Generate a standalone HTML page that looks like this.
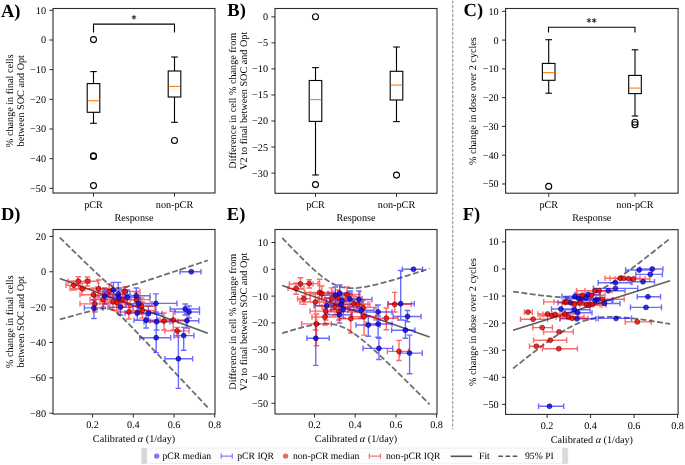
<!DOCTYPE html><html><head><meta charset="utf-8"><style>html,body{margin:0;padding:0;background:#fff;}svg{display:block;will-change:transform;text-rendering:geometricPrecision;}</style></head><body><svg width="685" height="465" viewBox="0 0 685 465" font-family='"Liberation Serif", serif'>
<rect width="685" height="465" fill="#fff"/>
<line x1="452.7" y1="0.5" x2="452.7" y2="429" stroke="#a0a0a0" stroke-width="1.3" stroke-dasharray="3 1.5"/>
<text x="1.00" y="16.80" font-size="18.5" text-anchor="start" font-weight="bold">A)</text>
<text x="227.30" y="16.20" font-size="18.5" text-anchor="start" font-weight="bold">B)</text>
<text x="463.60" y="16.30" font-size="18.5" text-anchor="start" font-weight="bold">C)</text>
<text x="1.00" y="219.70" font-size="18.5" text-anchor="start" font-weight="bold">D)</text>
<text x="226.80" y="220.00" font-size="18.5" text-anchor="start" font-weight="bold">E)</text>
<text x="462.80" y="220.30" font-size="18.5" text-anchor="start" font-weight="bold">F)</text>
<line x1="49.40" y1="10.33" x2="53.00" y2="10.33" stroke="#2b2b2b" stroke-width="1.0" />
<text x="46.00" y="13.78" font-size="10.2" text-anchor="end" >10</text>
<line x1="49.40" y1="40.00" x2="53.00" y2="40.00" stroke="#2b2b2b" stroke-width="1.0" />
<text x="46.00" y="43.45" font-size="10.2" text-anchor="end" >0</text>
<line x1="49.40" y1="69.67" x2="53.00" y2="69.67" stroke="#2b2b2b" stroke-width="1.0" />
<text x="46.00" y="73.12" font-size="10.2" text-anchor="end" >−10</text>
<line x1="49.40" y1="99.34" x2="53.00" y2="99.34" stroke="#2b2b2b" stroke-width="1.0" />
<text x="46.00" y="102.79" font-size="10.2" text-anchor="end" >−20</text>
<line x1="49.40" y1="129.01" x2="53.00" y2="129.01" stroke="#2b2b2b" stroke-width="1.0" />
<text x="46.00" y="132.46" font-size="10.2" text-anchor="end" >−30</text>
<line x1="49.40" y1="158.68" x2="53.00" y2="158.68" stroke="#2b2b2b" stroke-width="1.0" />
<text x="46.00" y="162.13" font-size="10.2" text-anchor="end" >−40</text>
<line x1="49.40" y1="188.35" x2="53.00" y2="188.35" stroke="#2b2b2b" stroke-width="1.0" />
<text x="46.00" y="191.80" font-size="10.2" text-anchor="end" >−50</text>
<line x1="93.50" y1="193.00" x2="93.50" y2="196.60" stroke="#2b2b2b" stroke-width="1.0" />
<text x="93.50" y="208.10" font-size="10.2" text-anchor="middle" >pCR</text>
<line x1="174.50" y1="193.00" x2="174.50" y2="196.60" stroke="#2b2b2b" stroke-width="1.0" />
<text x="174.50" y="208.10" font-size="10.2" text-anchor="middle" >non-pCR</text>
<text x="134.00" y="221.10" font-size="10.2" text-anchor="middle" >Response</text>
<text x="12.90" y="100.75" font-size="10.2" text-anchor="middle" transform="rotate(-90 12.90 100.75)">% change in final cells</text>
<text x="24.00" y="100.75" font-size="10.2" text-anchor="middle" transform="rotate(-90 24.00 100.75)">between SOC and Opt</text>
<rect x="87.20" y="83.60" width="12.60" height="28.70" fill="none" stroke="#000" stroke-width="1.1"/>
<line x1="93.50" y1="83.60" x2="93.50" y2="71.60" stroke="#000" stroke-width="1.1" />
<line x1="93.50" y1="112.30" x2="93.50" y2="123.30" stroke="#000" stroke-width="1.1" />
<line x1="90.20" y1="71.60" x2="96.80" y2="71.60" stroke="#000" stroke-width="1.1" />
<line x1="90.20" y1="123.30" x2="96.80" y2="123.30" stroke="#000" stroke-width="1.1" />
<line x1="87.70" y1="100.70" x2="99.30" y2="100.70" stroke="#ff7f0e" stroke-width="1.1" />
<circle cx="93.50" cy="39.60" r="3.0" fill="none" stroke="#000" stroke-width="1.1"/>
<circle cx="93.50" cy="155.70" r="3.0" fill="none" stroke="#000" stroke-width="1.1"/>
<circle cx="93.50" cy="156.50" r="3.0" fill="none" stroke="#000" stroke-width="1.1"/>
<circle cx="93.50" cy="185.60" r="3.0" fill="none" stroke="#000" stroke-width="1.1"/>
<rect x="168.20" y="71.00" width="12.60" height="26.00" fill="none" stroke="#000" stroke-width="1.1"/>
<line x1="174.50" y1="71.00" x2="174.50" y2="57.00" stroke="#000" stroke-width="1.1" />
<line x1="174.50" y1="97.00" x2="174.50" y2="122.30" stroke="#000" stroke-width="1.1" />
<line x1="171.20" y1="57.00" x2="177.80" y2="57.00" stroke="#000" stroke-width="1.1" />
<line x1="171.20" y1="122.30" x2="177.80" y2="122.30" stroke="#000" stroke-width="1.1" />
<line x1="168.70" y1="86.40" x2="180.30" y2="86.40" stroke="#ff7f0e" stroke-width="1.1" />
<circle cx="174.50" cy="140.50" r="3.0" fill="none" stroke="#000" stroke-width="1.1"/>
<polyline points="93.50,32.40 93.50,24.10 174.50,24.10 174.50,32.40" fill="none" stroke="#000" stroke-width="1.1"/>
<path d="M134.00 15.30L134.00 19.30M132.27 16.30L135.73 18.30M132.27 18.30L135.73 16.30" stroke="#5a5a5a" stroke-width="1.1" stroke-linecap="round" fill="none"/>
<circle cx="134.00" cy="17.30" r="1.0" fill="#333"/>
<rect x="53" y="8.5" width="162" height="184.5" fill="none" stroke="#2b2b2b" stroke-width="1.1"/>
<line x1="271.40" y1="16.80" x2="275.00" y2="16.80" stroke="#2b2b2b" stroke-width="1.0" />
<text x="268.00" y="20.25" font-size="10.2" text-anchor="end" >0</text>
<line x1="271.40" y1="42.85" x2="275.00" y2="42.85" stroke="#2b2b2b" stroke-width="1.0" />
<text x="268.00" y="46.30" font-size="10.2" text-anchor="end" >−5</text>
<line x1="271.40" y1="68.90" x2="275.00" y2="68.90" stroke="#2b2b2b" stroke-width="1.0" />
<text x="268.00" y="72.35" font-size="10.2" text-anchor="end" >−10</text>
<line x1="271.40" y1="94.95" x2="275.00" y2="94.95" stroke="#2b2b2b" stroke-width="1.0" />
<text x="268.00" y="98.40" font-size="10.2" text-anchor="end" >−15</text>
<line x1="271.40" y1="121.00" x2="275.00" y2="121.00" stroke="#2b2b2b" stroke-width="1.0" />
<text x="268.00" y="124.45" font-size="10.2" text-anchor="end" >−20</text>
<line x1="271.40" y1="147.05" x2="275.00" y2="147.05" stroke="#2b2b2b" stroke-width="1.0" />
<text x="268.00" y="150.50" font-size="10.2" text-anchor="end" >−25</text>
<line x1="271.40" y1="173.10" x2="275.00" y2="173.10" stroke="#2b2b2b" stroke-width="1.0" />
<text x="268.00" y="176.55" font-size="10.2" text-anchor="end" >−30</text>
<line x1="315.50" y1="193.30" x2="315.50" y2="196.90" stroke="#2b2b2b" stroke-width="1.0" />
<text x="315.50" y="208.10" font-size="10.2" text-anchor="middle" >pCR</text>
<line x1="396.50" y1="193.30" x2="396.50" y2="196.90" stroke="#2b2b2b" stroke-width="1.0" />
<text x="396.50" y="208.10" font-size="10.2" text-anchor="middle" >non-pCR</text>
<text x="356.00" y="221.10" font-size="10.2" text-anchor="middle" >Response</text>
<text x="236.00" y="100.75" font-size="10.2" text-anchor="middle" transform="rotate(-90 236.00 100.75)">Difference in cell % change from</text>
<text x="247.20" y="100.75" font-size="10.2" text-anchor="middle" transform="rotate(-90 247.20 100.75)">V2 to final between SOC and Opt</text>
<rect x="309.20" y="80.50" width="12.60" height="40.90" fill="none" stroke="#000" stroke-width="1.1"/>
<line x1="315.50" y1="80.50" x2="315.50" y2="67.60" stroke="#000" stroke-width="1.1" />
<line x1="315.50" y1="121.40" x2="315.50" y2="175.00" stroke="#000" stroke-width="1.1" />
<line x1="312.20" y1="67.60" x2="318.80" y2="67.60" stroke="#000" stroke-width="1.1" />
<line x1="312.20" y1="175.00" x2="318.80" y2="175.00" stroke="#000" stroke-width="1.1" />
<line x1="309.70" y1="99.60" x2="321.30" y2="99.60" stroke="#ff7f0e" stroke-width="1.1" />
<circle cx="315.50" cy="16.80" r="3.0" fill="none" stroke="#000" stroke-width="1.1"/>
<circle cx="315.50" cy="184.60" r="3.0" fill="none" stroke="#000" stroke-width="1.1"/>
<rect x="390.20" y="71.30" width="12.60" height="28.70" fill="none" stroke="#000" stroke-width="1.1"/>
<line x1="396.50" y1="71.30" x2="396.50" y2="47.00" stroke="#000" stroke-width="1.1" />
<line x1="396.50" y1="100.00" x2="396.50" y2="121.60" stroke="#000" stroke-width="1.1" />
<line x1="393.20" y1="47.00" x2="399.80" y2="47.00" stroke="#000" stroke-width="1.1" />
<line x1="393.20" y1="121.60" x2="399.80" y2="121.60" stroke="#000" stroke-width="1.1" />
<line x1="390.70" y1="85.10" x2="402.30" y2="85.10" stroke="#ff7f0e" stroke-width="1.1" />
<circle cx="396.50" cy="175.10" r="3.0" fill="none" stroke="#000" stroke-width="1.1"/>
<rect x="275" y="8.5" width="162" height="184.8" fill="none" stroke="#2b2b2b" stroke-width="1.1"/>
<line x1="502.00" y1="11.30" x2="505.60" y2="11.30" stroke="#2b2b2b" stroke-width="1.0" />
<text x="498.60" y="14.75" font-size="10.2" text-anchor="end" >10</text>
<line x1="502.00" y1="40.08" x2="505.60" y2="40.08" stroke="#2b2b2b" stroke-width="1.0" />
<text x="498.60" y="43.53" font-size="10.2" text-anchor="end" >0</text>
<line x1="502.00" y1="68.86" x2="505.60" y2="68.86" stroke="#2b2b2b" stroke-width="1.0" />
<text x="498.60" y="72.31" font-size="10.2" text-anchor="end" >−10</text>
<line x1="502.00" y1="97.64" x2="505.60" y2="97.64" stroke="#2b2b2b" stroke-width="1.0" />
<text x="498.60" y="101.09" font-size="10.2" text-anchor="end" >−20</text>
<line x1="502.00" y1="126.42" x2="505.60" y2="126.42" stroke="#2b2b2b" stroke-width="1.0" />
<text x="498.60" y="129.87" font-size="10.2" text-anchor="end" >−30</text>
<line x1="502.00" y1="155.20" x2="505.60" y2="155.20" stroke="#2b2b2b" stroke-width="1.0" />
<text x="498.60" y="158.65" font-size="10.2" text-anchor="end" >−40</text>
<line x1="502.00" y1="183.98" x2="505.60" y2="183.98" stroke="#2b2b2b" stroke-width="1.0" />
<text x="498.60" y="187.43" font-size="10.2" text-anchor="end" >−50</text>
<line x1="548.73" y1="193.20" x2="548.73" y2="196.80" stroke="#2b2b2b" stroke-width="1.0" />
<text x="548.73" y="208.10" font-size="10.2" text-anchor="middle" >pCR</text>
<line x1="634.98" y1="193.20" x2="634.98" y2="196.80" stroke="#2b2b2b" stroke-width="1.0" />
<text x="634.98" y="208.10" font-size="10.2" text-anchor="middle" >non-pCR</text>
<text x="591.85" y="221.10" font-size="10.2" text-anchor="middle" >Response</text>
<text x="476.00" y="101.10" font-size="10.2" text-anchor="middle" transform="rotate(-90 476.00 101.10)">% change in dose over 2 cycles</text>
<rect x="542.40" y="63.40" width="12.60" height="16.90" fill="none" stroke="#000" stroke-width="1.1"/>
<line x1="548.70" y1="63.40" x2="548.70" y2="39.70" stroke="#000" stroke-width="1.1" />
<line x1="548.70" y1="80.30" x2="548.70" y2="93.20" stroke="#000" stroke-width="1.1" />
<line x1="545.40" y1="39.70" x2="552.00" y2="39.70" stroke="#000" stroke-width="1.1" />
<line x1="545.40" y1="93.20" x2="552.00" y2="93.20" stroke="#000" stroke-width="1.1" />
<line x1="542.90" y1="72.60" x2="554.50" y2="72.60" stroke="#ff7f0e" stroke-width="1.1" />
<circle cx="548.70" cy="186.40" r="3.0" fill="none" stroke="#000" stroke-width="1.1"/>
<rect x="628.70" y="75.40" width="12.60" height="18.20" fill="none" stroke="#000" stroke-width="1.1"/>
<line x1="635.00" y1="75.40" x2="635.00" y2="49.80" stroke="#000" stroke-width="1.1" />
<line x1="635.00" y1="93.60" x2="635.00" y2="116.00" stroke="#000" stroke-width="1.1" />
<line x1="631.70" y1="49.80" x2="638.30" y2="49.80" stroke="#000" stroke-width="1.1" />
<line x1="631.70" y1="116.00" x2="638.30" y2="116.00" stroke="#000" stroke-width="1.1" />
<line x1="629.20" y1="88.10" x2="640.80" y2="88.10" stroke="#ff7f0e" stroke-width="1.1" />
<circle cx="635.00" cy="122.20" r="3.0" fill="none" stroke="#000" stroke-width="1.1"/>
<circle cx="635.00" cy="124.70" r="3.0" fill="none" stroke="#000" stroke-width="1.1"/>
<polyline points="548.50,32.60 548.50,27.30 635.00,27.30 635.00,32.60" fill="none" stroke="#000" stroke-width="1.1"/>
<path d="M588.93 18.40L588.93 22.40M587.19 19.40L590.66 21.40M587.19 21.40L590.66 19.40" stroke="#5a5a5a" stroke-width="1.1" stroke-linecap="round" fill="none"/>
<circle cx="588.93" cy="20.40" r="1.0" fill="#333"/>
<path d="M594.27 18.40L594.27 22.40M592.54 19.40L596.01 21.40M592.54 21.40L596.01 19.40" stroke="#5a5a5a" stroke-width="1.1" stroke-linecap="round" fill="none"/>
<circle cx="594.27" cy="20.40" r="1.0" fill="#333"/>
<rect x="505.6" y="8.5" width="172.5" height="184.7" fill="none" stroke="#2b2b2b" stroke-width="1.1"/>
<polyline points="59.80,237.61 61.65,239.42 63.50,241.22 65.35,243.03 67.20,244.84 69.05,246.65 70.90,248.45 72.75,250.26 74.60,252.06 76.45,253.86 78.30,255.66 80.15,257.46 82.00,259.26 83.85,261.05 85.70,262.84 87.55,264.63 89.40,266.41 91.25,268.19 93.10,269.96 94.95,271.72 96.80,273.47 98.65,275.21 100.50,276.93 102.35,278.62 104.20,280.28 106.05,281.89 107.90,283.42 109.75,284.83 111.60,286.07 113.45,287.05 115.30,287.70 117.15,288.03 119.00,288.07 120.85,287.91 122.70,287.61 124.55,287.22 126.40,286.78 128.25,286.29 130.10,285.78 131.95,285.24 133.80,284.69 135.65,284.13 137.50,283.56 139.35,282.98 141.20,282.40 143.05,281.81 144.90,281.22 146.75,280.62 148.60,280.02 150.45,279.42 152.30,278.82 154.15,278.22 156.00,277.61 157.85,277.00 159.70,276.39 161.55,275.78 163.40,275.17 165.25,274.56 167.10,273.95 168.95,273.34 170.80,272.73 172.65,272.11 174.50,271.50 176.35,270.88 178.20,270.27 180.05,269.65 181.90,269.04 183.75,268.42 185.60,267.80 187.45,267.19 189.30,266.57 191.15,265.95 193.00,265.34 194.85,264.72 196.70,264.10 198.55,263.48 200.40,262.86 202.25,262.25 204.10,261.63 205.95,261.01 207.80,260.39" fill="none" stroke="#6e6e6e" stroke-width="1.8" stroke-dasharray="5.9 2.5"/>
<polyline points="59.80,319.34 61.65,318.82 63.50,318.31 65.35,317.80 67.20,317.28 69.05,316.77 70.90,316.26 72.75,315.76 74.60,315.25 76.45,314.75 78.30,314.25 80.15,313.75 82.00,313.26 83.85,312.77 85.70,312.29 87.55,311.81 89.40,311.34 91.25,310.88 93.10,310.44 94.95,310.01 96.80,309.60 98.65,309.22 100.50,308.89 102.35,308.61 104.20,308.41 106.05,308.33 107.90,308.42 109.75,308.75 111.60,309.37 113.45,310.30 115.30,311.52 117.15,312.94 119.00,314.51 120.85,316.19 122.70,317.94 124.55,319.74 126.40,321.58 128.25,323.44 130.10,325.32 131.95,327.22 133.80,329.13 135.65,331.04 137.50,332.97 139.35,334.90 141.20,336.84 143.05,338.78 144.90,340.72 146.75,342.67 148.60,344.62 150.45,346.57 152.30,348.53 154.15,350.48 156.00,352.44 157.85,354.40 159.70,356.36 161.55,358.32 163.40,360.28 165.25,362.24 167.10,364.21 168.95,366.17 170.80,368.14 172.65,370.10 174.50,372.07 176.35,374.04 178.20,376.00 180.05,377.97 181.90,379.94 183.75,381.91 185.60,383.87 187.45,385.84 189.30,387.81 191.15,389.78 193.00,391.75 194.85,393.72 196.70,395.69 198.55,397.66 200.40,399.63 202.25,401.60 204.10,403.57 205.95,405.54 207.80,407.51" fill="none" stroke="#6e6e6e" stroke-width="1.8" stroke-dasharray="5.9 2.5"/>
<line x1="59.80" y1="278.40" x2="207.80" y2="333.20" stroke="#5e5e5e" stroke-width="1.6" />
<path d="M180.0 271.8H201.0M180.0 269.0V274.6M201.0 269.0V274.6M84.4 307.9H103.0M84.4 305.1V310.7M103.0 305.1V310.7M93.9 300.0V318.5M91.1 300.0H96.7M91.1 318.5H96.7M95.0 295.9H115.0M95.0 293.1V298.7M115.0 293.1V298.7M104.7 288.0V304.0M101.9 288.0H107.5M101.9 304.0H107.5M106.0 294.4H130.0M106.0 291.6V297.2M130.0 291.6V297.2M118.3 282.4V302.0M115.5 282.4H121.1M115.5 302.0H121.1M107.0 297.4H131.0M107.0 294.6V300.2M131.0 294.6V300.2M119.0 290.0V305.0M116.2 290.0H121.8M116.2 305.0H121.8M103.0 290.0H124.0M103.0 287.2V292.8M124.0 287.2V292.8M113.4 282.4V298.0M110.6 282.4H116.2M110.6 298.0H116.2M115.0 297.4H140.0M115.0 294.6V300.2M140.0 294.6V300.2M127.3 290.0V305.0M124.5 290.0H130.1M124.5 305.0H130.1M124.0 295.8H150.0M124.0 293.0V298.6M150.0 293.0V298.6M136.3 288.0V303.0M133.5 288.0H139.1M133.5 303.0H139.1M126.0 303.7H152.0M126.0 300.9V306.5M152.0 300.9V306.5M138.6 296.0V311.0M135.8 296.0H141.4M135.8 311.0H141.4M108.0 307.2H133.0M108.0 304.4V310.0M133.0 304.4V310.0M120.5 300.0V315.0M117.7 300.0H123.3M117.7 315.0H123.3M125.0 313.0H150.0M125.0 310.2V315.8M150.0 310.2V315.8M137.3 306.0V320.0M134.5 306.0H140.1M134.5 320.0H140.1M136.0 313.5H162.0M136.0 310.7V316.3M162.0 310.7V316.3M148.3 306.0V321.0M145.5 306.0H151.1M145.5 321.0H151.1M140.0 303.4H177.0M140.0 300.6V306.2M177.0 300.6V306.2M155.9 293.9V312.0M153.1 293.9H158.7M153.1 312.0H158.7M134.0 320.2H158.0M134.0 317.4V323.0M158.0 317.4V323.0M146.1 313.0V328.0M143.3 313.0H148.9M143.3 328.0H148.9M144.0 321.7H170.0M144.0 318.9V324.5M170.0 318.9V324.5M156.6 314.0V330.0M153.8 314.0H159.4M153.8 330.0H159.4M170.2 309.0H199.5M170.2 306.2V311.8M199.5 306.2V311.8M185.2 304.0V315.0M182.4 304.0H188.0M182.4 315.0H188.0M175.0 312.0H199.5M175.0 309.2V314.8M199.5 309.2V314.8M189.0 306.0V318.0M186.2 306.0H191.8M186.2 318.0H191.8M172.0 320.8H198.8M172.0 318.0V323.6M198.8 318.0V323.6M186.9 314.0V328.0M184.1 314.0H189.7M184.1 328.0H189.7M139.7 337.7H170.7M139.7 334.9V340.5M170.7 334.9V340.5M156.2 321.6V352.6M153.4 321.6H159.0M153.4 352.6H159.0M164.9 358.8H192.6M164.9 356.0V361.6M192.6 356.0V361.6M178.4 331.3V388.4M175.6 331.3H181.2M175.6 388.4H181.2M174.0 335.6H194.0M174.0 332.8V338.4M194.0 332.8V338.4M183.7 327.4V350.3M180.9 327.4H186.5M180.9 350.3H186.5" fill="none" stroke="rgba(0,0,255,0.58)" stroke-width="1.4"/>
<path d="M66.0 285.3H80.0M66.0 282.5V288.1M80.0 282.5V288.1M73.8 281.0V290.0M71.0 281.0H76.6M71.0 290.0H76.6M68.0 281.3H90.0M68.0 278.5V284.1M90.0 278.5V284.1M78.3 276.8V289.0M75.5 276.8H81.1M75.5 289.0H81.1M78.0 281.3H98.0M78.0 278.5V284.1M98.0 278.5V284.1M87.4 277.0V286.0M84.6 277.0H90.2M84.6 286.0H90.2M70.0 288.8H96.0M70.0 286.0V291.6M96.0 286.0V291.6M82.1 283.0V295.0M79.3 283.0H84.9M79.3 295.0H84.9M85.0 288.8H112.0M85.0 286.0V291.6M112.0 286.0V291.6M98.7 280.0V298.0M95.9 280.0H101.5M95.9 298.0H101.5M80.0 294.8H108.0M80.0 292.0V297.6M108.0 292.0V297.6M93.4 288.0V303.0M90.6 288.0H96.2M90.6 303.0H96.2M98.0 291.4H122.0M98.0 288.6V294.2M122.0 288.6V294.2M109.2 284.0V300.0M106.4 284.0H112.0M106.4 300.0H112.0M110.0 291.4H140.0M110.0 288.6V294.2M140.0 288.6V294.2M125.0 287.0V300.0M122.2 287.0H127.8M122.2 300.0H127.8M80.0 303.9H110.0M80.0 301.1V306.7M110.0 301.1V306.7M94.9 296.0V312.0M92.1 296.0H97.7M92.1 312.0H97.7M90.0 299.6H116.0M90.0 296.8V302.4M116.0 296.8V302.4M103.2 292.0V307.0M100.4 292.0H106.0M100.4 307.0H106.0M100.0 301.9H125.0M100.0 299.1V304.7M125.0 299.1V304.7M113.0 294.0V310.0M110.2 294.0H115.8M110.2 310.0H115.8M104.0 302.7H130.0M104.0 299.9V305.5M130.0 299.9V305.5M116.7 295.0V311.0M113.9 295.0H119.5M113.9 311.0H119.5M118.0 312.0H142.0M118.0 309.2V314.8M142.0 309.2V314.8M128.8 304.0V319.0M126.0 304.0H131.6M126.0 319.0H131.6M124.0 299.6H150.0M124.0 296.8V302.4M150.0 296.8V302.4M136.3 292.0V306.0M133.5 292.0H139.1M133.5 306.0H139.1M130.0 306.2H155.0M130.0 303.4V309.0M155.0 303.4V309.0M141.6 298.0V314.0M138.8 298.0H144.4M138.8 314.0H144.4M130.0 310.5H155.0M130.0 307.7V313.3M155.0 307.7V313.3M142.3 302.0V318.0M139.5 302.0H145.1M139.5 318.0H145.1M150.0 321.0H178.0M150.0 318.2V323.8M178.0 318.2V323.8M164.0 313.0V330.0M161.2 313.0H166.8M161.2 330.0H166.8M160.0 320.0H188.0M160.0 317.2V322.8M188.0 317.2V322.8M173.2 311.2V330.0M170.4 311.2H176.0M170.4 330.0H176.0M164.9 330.9H189.1M164.9 328.1V333.7M189.1 328.1V333.7M177.1 327.4V337.1M174.3 327.4H179.9M174.3 337.1H179.9M110.0 299.8H135.0M110.0 297.0V302.6M135.0 297.0V302.6M122.5 292.0V307.0M119.7 292.0H125.3M119.7 307.0H125.3" fill="none" stroke="rgba(245,0,0,0.58)" stroke-width="1.4"/>
<circle cx="73.8" cy="285.3" r="2.45" fill="rgba(250,0,0,0.78)" stroke="#500000" stroke-opacity="0.75" stroke-width="0.8"/>
<circle cx="78.3" cy="281.3" r="2.45" fill="rgba(250,0,0,0.78)" stroke="#500000" stroke-opacity="0.75" stroke-width="0.8"/>
<circle cx="87.4" cy="281.3" r="2.45" fill="rgba(250,0,0,0.78)" stroke="#500000" stroke-opacity="0.75" stroke-width="0.8"/>
<circle cx="82.1" cy="288.8" r="2.45" fill="rgba(250,0,0,0.78)" stroke="#500000" stroke-opacity="0.75" stroke-width="0.8"/>
<circle cx="98.7" cy="288.8" r="2.45" fill="rgba(250,0,0,0.78)" stroke="#500000" stroke-opacity="0.75" stroke-width="0.8"/>
<circle cx="93.4" cy="294.8" r="2.45" fill="rgba(250,0,0,0.78)" stroke="#500000" stroke-opacity="0.75" stroke-width="0.8"/>
<circle cx="109.2" cy="291.4" r="2.45" fill="rgba(250,0,0,0.78)" stroke="#500000" stroke-opacity="0.75" stroke-width="0.8"/>
<circle cx="125.0" cy="291.4" r="2.45" fill="rgba(250,0,0,0.78)" stroke="#500000" stroke-opacity="0.75" stroke-width="0.8"/>
<circle cx="94.9" cy="303.9" r="2.45" fill="rgba(250,0,0,0.78)" stroke="#500000" stroke-opacity="0.75" stroke-width="0.8"/>
<circle cx="103.2" cy="299.6" r="2.45" fill="rgba(250,0,0,0.78)" stroke="#500000" stroke-opacity="0.75" stroke-width="0.8"/>
<circle cx="113.0" cy="301.9" r="2.45" fill="rgba(250,0,0,0.78)" stroke="#500000" stroke-opacity="0.75" stroke-width="0.8"/>
<circle cx="116.7" cy="302.7" r="2.45" fill="rgba(250,0,0,0.78)" stroke="#500000" stroke-opacity="0.75" stroke-width="0.8"/>
<circle cx="128.8" cy="312.0" r="2.45" fill="rgba(250,0,0,0.78)" stroke="#500000" stroke-opacity="0.75" stroke-width="0.8"/>
<circle cx="136.3" cy="299.6" r="2.45" fill="rgba(250,0,0,0.78)" stroke="#500000" stroke-opacity="0.75" stroke-width="0.8"/>
<circle cx="141.6" cy="306.2" r="2.45" fill="rgba(250,0,0,0.78)" stroke="#500000" stroke-opacity="0.75" stroke-width="0.8"/>
<circle cx="142.3" cy="310.5" r="2.45" fill="rgba(250,0,0,0.78)" stroke="#500000" stroke-opacity="0.75" stroke-width="0.8"/>
<circle cx="164.0" cy="321.0" r="2.45" fill="rgba(250,0,0,0.78)" stroke="#500000" stroke-opacity="0.75" stroke-width="0.8"/>
<circle cx="173.2" cy="320.0" r="2.45" fill="rgba(250,0,0,0.78)" stroke="#500000" stroke-opacity="0.75" stroke-width="0.8"/>
<circle cx="177.1" cy="330.9" r="2.45" fill="rgba(250,0,0,0.78)" stroke="#500000" stroke-opacity="0.75" stroke-width="0.8"/>
<circle cx="122.5" cy="299.8" r="2.45" fill="rgba(250,0,0,0.78)" stroke="#500000" stroke-opacity="0.75" stroke-width="0.8"/>
<circle cx="191.3" cy="271.8" r="2.45" fill="rgba(10,0,245,0.78)" stroke="#000050" stroke-opacity="0.75" stroke-width="0.8"/>
<circle cx="93.9" cy="307.9" r="2.45" fill="rgba(10,0,245,0.78)" stroke="#000050" stroke-opacity="0.75" stroke-width="0.8"/>
<circle cx="104.7" cy="295.9" r="2.45" fill="rgba(10,0,245,0.78)" stroke="#000050" stroke-opacity="0.75" stroke-width="0.8"/>
<circle cx="118.3" cy="294.4" r="2.45" fill="rgba(10,0,245,0.78)" stroke="#000050" stroke-opacity="0.75" stroke-width="0.8"/>
<circle cx="119.0" cy="297.4" r="2.45" fill="rgba(10,0,245,0.78)" stroke="#000050" stroke-opacity="0.75" stroke-width="0.8"/>
<circle cx="113.4" cy="290.0" r="2.45" fill="rgba(10,0,245,0.78)" stroke="#000050" stroke-opacity="0.75" stroke-width="0.8"/>
<circle cx="127.3" cy="297.4" r="2.45" fill="rgba(10,0,245,0.78)" stroke="#000050" stroke-opacity="0.75" stroke-width="0.8"/>
<circle cx="136.3" cy="295.8" r="2.45" fill="rgba(10,0,245,0.78)" stroke="#000050" stroke-opacity="0.75" stroke-width="0.8"/>
<circle cx="138.6" cy="303.7" r="2.45" fill="rgba(10,0,245,0.78)" stroke="#000050" stroke-opacity="0.75" stroke-width="0.8"/>
<circle cx="120.5" cy="307.2" r="2.45" fill="rgba(10,0,245,0.78)" stroke="#000050" stroke-opacity="0.75" stroke-width="0.8"/>
<circle cx="137.3" cy="313.0" r="2.45" fill="rgba(10,0,245,0.78)" stroke="#000050" stroke-opacity="0.75" stroke-width="0.8"/>
<circle cx="148.3" cy="313.5" r="2.45" fill="rgba(10,0,245,0.78)" stroke="#000050" stroke-opacity="0.75" stroke-width="0.8"/>
<circle cx="155.9" cy="303.4" r="2.45" fill="rgba(10,0,245,0.78)" stroke="#000050" stroke-opacity="0.75" stroke-width="0.8"/>
<circle cx="146.1" cy="320.2" r="2.45" fill="rgba(10,0,245,0.78)" stroke="#000050" stroke-opacity="0.75" stroke-width="0.8"/>
<circle cx="156.6" cy="321.7" r="2.45" fill="rgba(10,0,245,0.78)" stroke="#000050" stroke-opacity="0.75" stroke-width="0.8"/>
<circle cx="185.2" cy="309.0" r="2.45" fill="rgba(10,0,245,0.78)" stroke="#000050" stroke-opacity="0.75" stroke-width="0.8"/>
<circle cx="189.0" cy="312.0" r="2.45" fill="rgba(10,0,245,0.78)" stroke="#000050" stroke-opacity="0.75" stroke-width="0.8"/>
<circle cx="186.9" cy="320.8" r="2.45" fill="rgba(10,0,245,0.78)" stroke="#000050" stroke-opacity="0.75" stroke-width="0.8"/>
<circle cx="156.2" cy="337.7" r="2.45" fill="rgba(10,0,245,0.78)" stroke="#000050" stroke-opacity="0.75" stroke-width="0.8"/>
<circle cx="178.4" cy="358.8" r="2.45" fill="rgba(10,0,245,0.78)" stroke="#000050" stroke-opacity="0.75" stroke-width="0.8"/>
<circle cx="183.7" cy="335.6" r="2.45" fill="rgba(10,0,245,0.78)" stroke="#000050" stroke-opacity="0.75" stroke-width="0.8"/>
<line x1="49.40" y1="236.40" x2="53.00" y2="236.40" stroke="#2b2b2b" stroke-width="1.0" />
<text x="46.00" y="239.85" font-size="10.2" text-anchor="end" >20</text>
<line x1="49.40" y1="271.76" x2="53.00" y2="271.76" stroke="#2b2b2b" stroke-width="1.0" />
<text x="46.00" y="275.21" font-size="10.2" text-anchor="end" >0</text>
<line x1="49.40" y1="307.12" x2="53.00" y2="307.12" stroke="#2b2b2b" stroke-width="1.0" />
<text x="46.00" y="310.57" font-size="10.2" text-anchor="end" >−20</text>
<line x1="49.40" y1="342.48" x2="53.00" y2="342.48" stroke="#2b2b2b" stroke-width="1.0" />
<text x="46.00" y="345.93" font-size="10.2" text-anchor="end" >−40</text>
<line x1="49.40" y1="377.84" x2="53.00" y2="377.84" stroke="#2b2b2b" stroke-width="1.0" />
<text x="46.00" y="381.29" font-size="10.2" text-anchor="end" >−60</text>
<line x1="49.40" y1="413.20" x2="53.00" y2="413.20" stroke="#2b2b2b" stroke-width="1.0" />
<text x="46.00" y="416.65" font-size="10.2" text-anchor="end" >−80</text>
<line x1="92.60" y1="414.00" x2="92.60" y2="417.60" stroke="#2b2b2b" stroke-width="1.0" />
<text x="92.60" y="428.40" font-size="10.2" text-anchor="middle" >0.2</text>
<line x1="133.30" y1="414.00" x2="133.30" y2="417.60" stroke="#2b2b2b" stroke-width="1.0" />
<text x="133.30" y="428.40" font-size="10.2" text-anchor="middle" >0.4</text>
<line x1="174.00" y1="414.00" x2="174.00" y2="417.60" stroke="#2b2b2b" stroke-width="1.0" />
<text x="174.00" y="428.40" font-size="10.2" text-anchor="middle" >0.6</text>
<line x1="214.70" y1="414.00" x2="214.70" y2="417.60" stroke="#2b2b2b" stroke-width="1.0" />
<text x="214.70" y="428.40" font-size="10.2" text-anchor="middle" >0.8</text>
<text x="134" y="441.7" font-size="10.2" text-anchor="middle">Calibrated <tspan font-style="italic">α</tspan> (1/day)</text>
<text x="12.90" y="321.75" font-size="10.2" text-anchor="middle" transform="rotate(-90 12.90 321.75)">% change in final cells</text>
<text x="24.00" y="321.75" font-size="10.2" text-anchor="middle" transform="rotate(-90 24.00 321.75)">between SOC and Opt</text>
<rect x="53" y="229.5" width="162" height="184.5" fill="none" stroke="#2b2b2b" stroke-width="1.1"/>
<polyline points="282.20,237.81 284.04,239.76 285.88,241.70 287.73,243.64 289.57,245.57 291.41,247.49 293.25,249.40 295.10,251.29 296.94,253.18 298.78,255.05 300.62,256.90 302.47,258.74 304.31,260.56 306.15,262.36 308.00,264.14 309.84,265.88 311.68,267.60 313.52,269.29 315.37,270.94 317.21,272.54 319.05,274.10 320.89,275.61 322.74,277.05 324.58,278.44 326.42,279.75 328.26,280.98 330.11,282.12 331.95,283.17 333.79,284.13 335.63,284.98 337.48,285.73 339.32,286.37 341.16,286.91 343.00,287.35 344.85,287.69 346.69,287.94 348.53,288.11 350.37,288.20 352.22,288.22 354.06,288.17 355.90,288.07 357.74,287.92 359.59,287.72 361.43,287.48 363.27,287.21 365.11,286.90 366.96,286.56 368.80,286.20 370.64,285.82 372.48,285.41 374.33,284.99 376.17,284.55 378.01,284.09 379.85,283.62 381.70,283.14 383.54,282.65 385.38,282.15 387.22,281.63 389.07,281.11 390.91,280.59 392.75,280.05 394.59,279.51 396.44,278.97 398.28,278.41 400.12,277.86 401.96,277.30 403.81,276.73 405.65,276.16 407.49,275.59 409.33,275.01 411.18,274.43 413.02,273.84 414.86,273.26 416.70,272.67 418.55,272.08 420.39,271.48 422.23,270.89 424.07,270.29 425.92,269.69 427.76,269.09 429.60,268.48" fill="none" stroke="#6e6e6e" stroke-width="1.8" stroke-dasharray="5.9 2.5"/>
<polyline points="282.20,333.32 284.04,332.72 285.88,332.13 287.73,331.55 289.57,330.98 291.41,330.41 293.25,329.86 295.10,329.32 296.94,328.79 298.78,328.27 300.62,327.77 302.47,327.28 304.31,326.81 306.15,326.36 308.00,325.94 309.84,325.54 311.68,325.16 313.52,324.82 315.37,324.51 317.21,324.24 319.05,324.01 320.89,323.83 322.74,323.70 324.58,323.63 326.42,323.62 328.26,323.68 330.11,323.82 331.95,324.04 333.79,324.34 335.63,324.73 337.48,325.22 339.32,325.80 341.16,326.47 343.00,327.24 344.85,328.10 346.69,329.05 348.53,330.08 350.37,331.19 352.22,332.37 354.06,333.62 355.90,334.92 357.74,336.28 359.59,337.69 361.43,339.14 363.27,340.64 365.11,342.17 366.96,343.73 368.80,345.32 370.64,346.93 372.48,348.57 374.33,350.23 376.17,351.91 378.01,353.61 379.85,355.32 381.70,357.05 383.54,358.78 385.38,360.53 387.22,362.29 389.07,364.06 390.91,365.84 392.75,367.63 394.59,369.42 396.44,371.22 398.28,373.03 400.12,374.85 401.96,376.66 403.81,378.49 405.65,380.32 407.49,382.15 409.33,383.98 411.18,385.82 413.02,387.67 414.86,389.52 416.70,391.37 418.55,393.22 420.39,395.07 422.23,396.93 424.07,398.79 425.92,400.66 427.76,402.52 429.60,404.39" fill="none" stroke="#6e6e6e" stroke-width="1.8" stroke-dasharray="5.9 2.5"/>
<line x1="282.20" y1="285.60" x2="429.60" y2="337.00" stroke="#5e5e5e" stroke-width="1.6" />
<path d="M402.2 269.3H422.6M402.2 266.5V272.1M422.6 266.5V272.1M388.0 303.7H414.3M388.0 300.9V306.5M414.3 300.9V306.5M400.7 270.5V320.0M397.9 270.5H403.5M397.9 320.0H403.5M393.2 316.5H421.0M393.2 313.7V319.3M421.0 313.7V319.3M407.5 310.5V321.7M404.7 310.5H410.3M404.7 321.7H410.3M391.6 330.2H414.9M391.6 327.4V333.0M414.9 327.4V333.0M405.4 320.3V338.3M402.6 320.3H408.2M402.6 338.3H408.2M400.0 353.1H422.3M400.0 350.3V355.9M422.3 350.3V355.9M409.6 335.1V373.8M406.8 335.1H412.4M406.8 373.8H412.4M363.0 348.4H392.7M363.0 345.6V351.2M392.7 345.6V351.2M378.9 338.3V359.5M376.1 338.3H381.7M376.1 359.5H381.7M366.0 312.0H392.0M366.0 309.2V314.8M392.0 309.2V314.8M378.1 305.0V320.0M375.3 305.0H380.9M375.3 320.0H380.9M366.0 324.0H392.0M366.0 321.2V326.8M392.0 321.2V326.8M378.1 316.0V337.2M375.3 316.0H380.9M375.3 337.2H380.9M356.0 325.0H380.0M356.0 322.2V327.8M380.0 322.2V327.8M368.3 316.0V336.2M365.5 316.0H371.1M365.5 336.2H371.1M306.9 338.3H329.2M306.9 335.5V341.1M329.2 335.5V341.1M315.8 323.5V365.4M313.0 323.5H318.6M313.0 365.4H318.6M322.0 295.2H348.0M322.0 292.4V298.0M348.0 292.4V298.0M335.3 287.0V303.0M332.5 287.0H338.1M332.5 303.0H338.1M328.0 293.2H352.0M328.0 290.4V296.0M352.0 290.4V296.0M339.7 285.0V301.0M336.9 285.0H342.5M336.9 301.0H342.5M330.0 301.0H355.0M330.0 298.2V303.8M355.0 298.2V303.8M342.1 293.0V309.0M339.3 293.0H344.9M339.3 309.0H344.9M329.0 304.5H353.0M329.0 301.7V307.3M353.0 301.7V307.3M341.0 297.0V312.0M338.2 297.0H343.8M338.2 312.0H343.8M338.0 298.9H362.0M338.0 296.1V301.7M362.0 296.1V301.7M350.0 291.0V307.0M347.2 291.0H352.8M347.2 307.0H352.8M346.0 299.5H372.0M346.0 296.7V302.3M372.0 296.7V302.3M358.9 291.0V308.0M356.1 291.0H361.7M356.1 308.0H361.7M314.0 305.8H339.0M314.0 303.0V308.6M339.0 303.0V308.6M326.6 298.0V314.0M323.8 298.0H329.4M323.8 314.0H329.4M331.0 309.4H356.0M331.0 306.6V312.2M356.0 306.6V312.2M343.3 301.0V318.0M340.5 301.0H346.1M340.5 318.0H346.1M327.0 314.7H352.0M327.0 311.9V317.5M352.0 311.9V317.5M339.5 306.0V323.0M336.7 306.0H342.3M336.7 323.0H342.3M348.0 310.2H374.0M348.0 307.4V313.0M374.0 307.4V313.0M361.3 302.0V318.0M358.5 302.0H364.1M358.5 318.0H364.1" fill="none" stroke="rgba(0,0,255,0.58)" stroke-width="1.4"/>
<path d="M288.0 288.4H304.0M288.0 285.6V291.2M304.0 285.6V291.2M296.1 283.0V294.2M293.3 283.0H298.9M293.3 294.2H298.9M289.4 284.0H313.0M289.4 281.2V286.8M313.0 281.2V286.8M300.5 277.7V289.0M297.7 277.7H303.3M297.7 289.0H303.3M300.0 283.6H318.0M300.0 280.8V286.4M318.0 280.8V286.4M309.2 279.7V288.0M306.4 279.7H312.0M306.4 288.0H312.0M297.6 298.8H310.2M297.6 296.0V301.6M310.2 296.0V301.6M303.9 295.7V304.4M301.1 295.7H306.7M301.1 304.4H306.7M305.0 292.5H333.0M305.0 289.7V295.3M333.0 289.7V295.3M319.6 279.2V306.0M316.8 279.2H322.4M316.8 306.0H322.4M310.0 293.7H335.0M310.0 290.9V296.5M335.0 290.9V296.5M321.8 286.0V302.0M319.0 286.0H324.6M319.0 302.0H324.6M300.0 302.0H330.0M300.0 299.2V304.8M330.0 299.2V304.8M315.4 294.0V330.0M312.6 294.0H318.2M312.6 330.0H318.2M318.0 298.6H345.0M318.0 295.8V301.4M345.0 295.8V301.4M331.5 287.9V310.0M328.7 287.9H334.3M328.7 310.0H334.3M325.0 298.1H350.0M325.0 295.3V300.9M350.0 295.3V300.9M337.8 290.0V306.0M335.0 290.0H340.6M335.0 306.0H340.6M335.0 294.4H360.0M335.0 291.6V297.2M360.0 291.6V297.2M347.0 287.0V302.0M344.2 287.0H349.8M344.2 302.0H349.8M310.0 311.1H340.0M310.0 308.3V313.9M340.0 308.3V313.9M325.7 303.0V320.0M322.9 303.0H328.5M322.9 320.0H328.5M322.0 306.8H348.0M322.0 304.0V309.6M348.0 304.0V309.6M334.9 299.0V315.0M332.1 299.0H337.7M332.1 315.0H337.7M312.0 317.0H338.0M312.0 314.2V319.8M338.0 314.2V319.8M324.9 309.0V325.0M322.1 309.0H327.7M322.1 325.0H327.7M301.6 323.9H331.3M301.6 321.1V326.7M331.3 321.1V326.7M316.5 314.0V345.7M313.7 314.0H319.3M313.7 345.7H319.3M326.0 311.7H352.0M326.0 308.9V314.5M352.0 308.9V314.5M338.7 303.0V320.0M335.9 303.0H341.5M335.9 320.0H341.5M338.0 318.7H364.0M338.0 315.9V321.5M364.0 315.9V321.5M350.8 310.0V333.0M348.0 310.0H353.6M348.0 333.0H353.6M340.0 303.9H368.0M340.0 301.1V306.7M368.0 301.1V306.7M353.8 296.0V312.0M351.0 296.0H356.6M351.0 312.0H356.6M345.0 304.4H370.0M345.0 301.6V307.2M370.0 301.6V307.2M357.8 297.0V312.0M355.0 297.0H360.6M355.0 312.0H360.6M350.0 307.4H376.0M350.0 304.6V310.2M376.0 304.6V310.2M363.1 300.0V315.0M360.3 300.0H365.9M360.3 315.0H365.9M352.0 316.7H376.0M352.0 313.9V319.5M376.0 313.9V319.5M364.1 308.0V335.1M361.3 308.0H366.9M361.3 335.1H366.9M374.0 318.2H398.0M374.0 315.4V321.0M398.0 315.4V321.0M386.3 308.0V329.8M383.5 308.0H389.1M383.5 329.8H389.1M387.9 304.4H411.3M387.9 301.6V307.2M411.3 301.6V307.2M394.7 292.4V312.0M391.9 292.4H397.5M391.9 312.0H397.5M387.4 351.4H408.5M387.4 348.6V354.2M408.5 348.6V354.2M399.0 340.4V360.5M396.2 340.4H401.8M396.2 360.5H401.8" fill="none" stroke="rgba(245,0,0,0.58)" stroke-width="1.4"/>
<circle cx="296.1" cy="288.4" r="2.45" fill="rgba(250,0,0,0.78)" stroke="#500000" stroke-opacity="0.75" stroke-width="0.8"/>
<circle cx="300.5" cy="284.0" r="2.45" fill="rgba(250,0,0,0.78)" stroke="#500000" stroke-opacity="0.75" stroke-width="0.8"/>
<circle cx="309.2" cy="283.6" r="2.45" fill="rgba(250,0,0,0.78)" stroke="#500000" stroke-opacity="0.75" stroke-width="0.8"/>
<circle cx="303.9" cy="298.8" r="2.45" fill="rgba(250,0,0,0.78)" stroke="#500000" stroke-opacity="0.75" stroke-width="0.8"/>
<circle cx="319.6" cy="292.5" r="2.45" fill="rgba(250,0,0,0.78)" stroke="#500000" stroke-opacity="0.75" stroke-width="0.8"/>
<circle cx="321.8" cy="293.7" r="2.45" fill="rgba(250,0,0,0.78)" stroke="#500000" stroke-opacity="0.75" stroke-width="0.8"/>
<circle cx="315.4" cy="302.0" r="2.45" fill="rgba(250,0,0,0.78)" stroke="#500000" stroke-opacity="0.75" stroke-width="0.8"/>
<circle cx="331.5" cy="298.6" r="2.45" fill="rgba(250,0,0,0.78)" stroke="#500000" stroke-opacity="0.75" stroke-width="0.8"/>
<circle cx="337.8" cy="298.1" r="2.45" fill="rgba(250,0,0,0.78)" stroke="#500000" stroke-opacity="0.75" stroke-width="0.8"/>
<circle cx="347.0" cy="294.4" r="2.45" fill="rgba(250,0,0,0.78)" stroke="#500000" stroke-opacity="0.75" stroke-width="0.8"/>
<circle cx="325.7" cy="311.1" r="2.45" fill="rgba(250,0,0,0.78)" stroke="#500000" stroke-opacity="0.75" stroke-width="0.8"/>
<circle cx="334.9" cy="306.8" r="2.45" fill="rgba(250,0,0,0.78)" stroke="#500000" stroke-opacity="0.75" stroke-width="0.8"/>
<circle cx="324.9" cy="317.0" r="2.45" fill="rgba(250,0,0,0.78)" stroke="#500000" stroke-opacity="0.75" stroke-width="0.8"/>
<circle cx="316.5" cy="323.9" r="2.45" fill="rgba(250,0,0,0.78)" stroke="#500000" stroke-opacity="0.75" stroke-width="0.8"/>
<circle cx="338.7" cy="311.7" r="2.45" fill="rgba(250,0,0,0.78)" stroke="#500000" stroke-opacity="0.75" stroke-width="0.8"/>
<circle cx="350.8" cy="318.7" r="2.45" fill="rgba(250,0,0,0.78)" stroke="#500000" stroke-opacity="0.75" stroke-width="0.8"/>
<circle cx="353.8" cy="303.9" r="2.45" fill="rgba(250,0,0,0.78)" stroke="#500000" stroke-opacity="0.75" stroke-width="0.8"/>
<circle cx="357.8" cy="304.4" r="2.45" fill="rgba(250,0,0,0.78)" stroke="#500000" stroke-opacity="0.75" stroke-width="0.8"/>
<circle cx="363.1" cy="307.4" r="2.45" fill="rgba(250,0,0,0.78)" stroke="#500000" stroke-opacity="0.75" stroke-width="0.8"/>
<circle cx="364.1" cy="316.7" r="2.45" fill="rgba(250,0,0,0.78)" stroke="#500000" stroke-opacity="0.75" stroke-width="0.8"/>
<circle cx="386.3" cy="318.2" r="2.45" fill="rgba(250,0,0,0.78)" stroke="#500000" stroke-opacity="0.75" stroke-width="0.8"/>
<circle cx="394.7" cy="304.4" r="2.45" fill="rgba(250,0,0,0.78)" stroke="#500000" stroke-opacity="0.75" stroke-width="0.8"/>
<circle cx="399.0" cy="351.4" r="2.45" fill="rgba(250,0,0,0.78)" stroke="#500000" stroke-opacity="0.75" stroke-width="0.8"/>
<circle cx="413.5" cy="269.3" r="2.45" fill="rgba(10,0,245,0.78)" stroke="#000050" stroke-opacity="0.75" stroke-width="0.8"/>
<circle cx="400.7" cy="303.7" r="2.45" fill="rgba(10,0,245,0.78)" stroke="#000050" stroke-opacity="0.75" stroke-width="0.8"/>
<circle cx="407.5" cy="316.5" r="2.45" fill="rgba(10,0,245,0.78)" stroke="#000050" stroke-opacity="0.75" stroke-width="0.8"/>
<circle cx="405.4" cy="330.2" r="2.45" fill="rgba(10,0,245,0.78)" stroke="#000050" stroke-opacity="0.75" stroke-width="0.8"/>
<circle cx="409.6" cy="353.1" r="2.45" fill="rgba(10,0,245,0.78)" stroke="#000050" stroke-opacity="0.75" stroke-width="0.8"/>
<circle cx="378.9" cy="348.4" r="2.45" fill="rgba(10,0,245,0.78)" stroke="#000050" stroke-opacity="0.75" stroke-width="0.8"/>
<circle cx="378.1" cy="312.0" r="2.45" fill="rgba(10,0,245,0.78)" stroke="#000050" stroke-opacity="0.75" stroke-width="0.8"/>
<circle cx="378.1" cy="324.0" r="2.45" fill="rgba(10,0,245,0.78)" stroke="#000050" stroke-opacity="0.75" stroke-width="0.8"/>
<circle cx="368.3" cy="325.0" r="2.45" fill="rgba(10,0,245,0.78)" stroke="#000050" stroke-opacity="0.75" stroke-width="0.8"/>
<circle cx="315.8" cy="338.3" r="2.45" fill="rgba(10,0,245,0.78)" stroke="#000050" stroke-opacity="0.75" stroke-width="0.8"/>
<circle cx="335.3" cy="295.2" r="2.45" fill="rgba(10,0,245,0.78)" stroke="#000050" stroke-opacity="0.75" stroke-width="0.8"/>
<circle cx="339.7" cy="293.2" r="2.45" fill="rgba(10,0,245,0.78)" stroke="#000050" stroke-opacity="0.75" stroke-width="0.8"/>
<circle cx="342.1" cy="301.0" r="2.45" fill="rgba(10,0,245,0.78)" stroke="#000050" stroke-opacity="0.75" stroke-width="0.8"/>
<circle cx="341.0" cy="304.5" r="2.45" fill="rgba(10,0,245,0.78)" stroke="#000050" stroke-opacity="0.75" stroke-width="0.8"/>
<circle cx="350.0" cy="298.9" r="2.45" fill="rgba(10,0,245,0.78)" stroke="#000050" stroke-opacity="0.75" stroke-width="0.8"/>
<circle cx="358.9" cy="299.5" r="2.45" fill="rgba(10,0,245,0.78)" stroke="#000050" stroke-opacity="0.75" stroke-width="0.8"/>
<circle cx="326.6" cy="305.8" r="2.45" fill="rgba(10,0,245,0.78)" stroke="#000050" stroke-opacity="0.75" stroke-width="0.8"/>
<circle cx="343.3" cy="309.4" r="2.45" fill="rgba(10,0,245,0.78)" stroke="#000050" stroke-opacity="0.75" stroke-width="0.8"/>
<circle cx="339.5" cy="314.7" r="2.45" fill="rgba(10,0,245,0.78)" stroke="#000050" stroke-opacity="0.75" stroke-width="0.8"/>
<circle cx="361.3" cy="310.2" r="2.45" fill="rgba(10,0,245,0.78)" stroke="#000050" stroke-opacity="0.75" stroke-width="0.8"/>
<line x1="271.40" y1="242.50" x2="275.00" y2="242.50" stroke="#2b2b2b" stroke-width="1.0" />
<text x="268.00" y="245.95" font-size="10.2" text-anchor="end" >10</text>
<line x1="271.40" y1="269.30" x2="275.00" y2="269.30" stroke="#2b2b2b" stroke-width="1.0" />
<text x="268.00" y="272.75" font-size="10.2" text-anchor="end" >0</text>
<line x1="271.40" y1="296.10" x2="275.00" y2="296.10" stroke="#2b2b2b" stroke-width="1.0" />
<text x="268.00" y="299.55" font-size="10.2" text-anchor="end" >−10</text>
<line x1="271.40" y1="322.90" x2="275.00" y2="322.90" stroke="#2b2b2b" stroke-width="1.0" />
<text x="268.00" y="326.35" font-size="10.2" text-anchor="end" >−20</text>
<line x1="271.40" y1="349.70" x2="275.00" y2="349.70" stroke="#2b2b2b" stroke-width="1.0" />
<text x="268.00" y="353.15" font-size="10.2" text-anchor="end" >−30</text>
<line x1="271.40" y1="376.50" x2="275.00" y2="376.50" stroke="#2b2b2b" stroke-width="1.0" />
<text x="268.00" y="379.95" font-size="10.2" text-anchor="end" >−40</text>
<line x1="271.40" y1="403.30" x2="275.00" y2="403.30" stroke="#2b2b2b" stroke-width="1.0" />
<text x="268.00" y="406.75" font-size="10.2" text-anchor="end" >−50</text>
<line x1="314.50" y1="414.00" x2="314.50" y2="417.60" stroke="#2b2b2b" stroke-width="1.0" />
<text x="314.50" y="428.40" font-size="10.2" text-anchor="middle" >0.2</text>
<line x1="355.20" y1="414.00" x2="355.20" y2="417.60" stroke="#2b2b2b" stroke-width="1.0" />
<text x="355.20" y="428.40" font-size="10.2" text-anchor="middle" >0.4</text>
<line x1="395.90" y1="414.00" x2="395.90" y2="417.60" stroke="#2b2b2b" stroke-width="1.0" />
<text x="395.90" y="428.40" font-size="10.2" text-anchor="middle" >0.6</text>
<line x1="436.60" y1="414.00" x2="436.60" y2="417.60" stroke="#2b2b2b" stroke-width="1.0" />
<text x="436.60" y="428.40" font-size="10.2" text-anchor="middle" >0.8</text>
<text x="356" y="441.7" font-size="10.2" text-anchor="middle">Calibrated <tspan font-style="italic">α</tspan> (1/day)</text>
<text x="236.00" y="321.75" font-size="10.2" text-anchor="middle" transform="rotate(-90 236.00 321.75)">Difference in cell % change from</text>
<text x="247.20" y="321.75" font-size="10.2" text-anchor="middle" transform="rotate(-90 247.20 321.75)">V2 to final between SOC and Opt</text>
<rect x="275" y="229.5" width="162" height="184.5" fill="none" stroke="#2b2b2b" stroke-width="1.1"/>
<polyline points="513.10,291.55 515.06,291.84 517.02,292.12 518.99,292.41 520.95,292.69 522.91,292.96 524.88,293.24 526.84,293.51 528.80,293.78 530.76,294.05 532.73,294.31 534.69,294.57 536.65,294.82 538.61,295.07 540.58,295.31 542.54,295.55 544.50,295.78 546.46,296.00 548.43,296.21 550.39,296.41 552.35,296.61 554.31,296.79 556.27,296.95 558.24,297.11 560.20,297.24 562.16,297.36 564.12,297.45 566.09,297.52 568.05,297.56 570.01,297.57 571.98,297.54 573.94,297.46 575.90,297.35 577.86,297.17 579.83,296.94 581.79,296.64 583.75,296.27 585.71,295.83 587.68,295.30 589.64,294.69 591.60,294.00 593.56,293.22 595.52,292.37 597.49,291.44 599.45,290.44 601.41,289.38 603.38,288.26 605.34,287.09 607.30,285.87 609.26,284.61 611.23,283.32 613.19,282.00 615.15,280.65 617.11,279.27 619.08,277.88 621.04,276.47 623.00,275.04 624.96,273.59 626.93,272.13 628.89,270.67 630.85,269.19 632.81,267.70 634.77,266.20 636.74,264.70 638.70,263.19 640.66,261.67 642.62,260.15 644.59,258.62 646.55,257.09 648.51,255.56 650.48,254.02 652.44,252.48 654.40,250.93 656.36,249.38 658.33,247.83 660.29,246.27 662.25,244.72 664.21,243.16 666.17,241.60 668.14,240.04 670.10,238.47" fill="none" stroke="#6e6e6e" stroke-width="1.8" stroke-dasharray="5.9 2.5"/>
<polyline points="513.10,368.50 515.06,366.92 517.02,365.34 518.99,363.77 520.95,362.20 522.91,360.64 524.88,359.09 526.84,357.54 528.80,356.00 530.76,354.47 532.73,352.94 534.69,351.43 536.65,349.92 538.61,348.43 540.58,346.95 542.54,345.48 544.50,344.03 546.46,342.59 548.43,341.17 550.39,339.76 552.35,338.38 554.31,337.02 556.27,335.68 558.24,334.37 560.20,333.09 562.16,331.84 564.12,330.62 566.09,329.44 568.05,328.30 570.01,327.20 571.98,326.15 573.94,325.15 575.90,324.20 577.86,323.31 579.83,322.48 581.79,321.70 583.75,320.99 585.71,320.34 587.68,319.75 589.64,319.22 591.60,318.75 593.56,318.35 595.52,317.99 597.49,317.70 599.45,317.45 601.41,317.26 603.38,317.10 605.34,316.99 607.30,316.92 609.26,316.89 611.23,316.88 613.19,316.91 615.15,316.97 617.11,317.05 619.08,317.15 621.04,317.28 623.00,317.42 624.96,317.58 626.93,317.76 628.89,317.95 630.85,318.16 632.81,318.38 634.77,318.61 636.74,318.85 638.70,319.10 640.66,319.36 642.62,319.63 644.59,319.90 646.55,320.19 648.51,320.48 650.48,320.77 652.44,321.07 654.40,321.38 656.36,321.69 658.33,322.01 660.29,322.33 662.25,322.65 664.21,322.98 666.17,323.31 668.14,323.65 670.10,323.99" fill="none" stroke="#6e6e6e" stroke-width="1.8" stroke-dasharray="5.9 2.5"/>
<line x1="513.10" y1="330.30" x2="670.10" y2="280.70" stroke="#5e5e5e" stroke-width="1.6" />
<path d="M538.6 406.3H563.7M538.6 403.5V409.1M563.7 403.5V409.1M598.2 318.4H631.5M598.2 315.6V321.2M631.5 315.6V321.2M637.3 296.8H660.5M637.3 294.0V299.6M660.5 294.0V299.6M630.5 307.4H661.5M630.5 304.6V310.2M661.5 304.6V310.2M625.6 270.0H652.0M625.6 267.2V272.8M652.0 267.2V272.8M640.0 269.0H662.9M640.0 266.2V271.8M662.9 266.2V271.8M635.8 274.4H662.4M635.8 271.6V277.2M662.4 271.6V277.2M630.5 281.8H654.5M630.5 279.0V284.6M654.5 279.0V284.6M598.2 282.7H632.0M598.2 279.9V285.5M632.0 279.9V285.5M593.4 288.4H637.7M593.4 285.6V291.2M637.7 285.6V291.2M595.0 290.8H625.0M595.0 288.0V293.6M625.0 288.0V293.6M590.0 303.5H620.0M590.0 300.7V306.3M620.0 300.7V306.3M580.0 300.5H612.0M580.0 297.7V303.3M612.0 297.7V303.3M583.0 299.8H613.0M583.0 297.0V302.6M613.0 297.0V302.6M575.0 294.5H600.0M575.0 291.7V297.3M600.0 291.7V297.3M570.0 298.1H600.0M570.0 295.3V300.9M600.0 295.3V300.9M568.0 298.9H596.0M568.0 296.1V301.7M596.0 296.1V301.7M566.0 298.5H592.0M566.0 295.7V301.3M592.0 295.7V301.3M562.0 296.4H590.0M562.0 293.6V299.2M590.0 293.6V299.2M558.0 302.7H584.0M558.0 299.9V305.5M584.0 299.9V305.5M551.5 309.0H575.0M551.5 306.2V311.8M575.0 306.2V311.8M562.0 309.7H590.0M562.0 306.9V312.5M590.0 306.9V312.5M565.0 312.8H592.0M565.0 310.0V315.6M592.0 310.0V315.6M560.0 318.8H596.0M560.0 316.0V321.6M596.0 316.0V321.6" fill="none" stroke="rgba(0,0,255,0.58)" stroke-width="1.4"/>
<path d="M524.4 312.1H532.3M524.4 309.3V314.9M532.3 309.3V314.9M520.5 319.2H547.6M520.5 316.4V322.0M547.6 316.4V322.0M532.8 327.6H552.4M532.8 324.8V330.4M552.4 324.8V330.4M543.6 331.9H573.3M543.6 329.1V334.7M573.3 329.1V334.7M533.6 340.2H566.7M533.6 337.4V343.0M566.7 337.4V343.0M529.5 346.3H543.3M529.5 343.5V349.1M543.3 343.5V349.1M542.4 348.7H577.4M542.4 345.9V351.5M577.4 345.9V351.5M537.9 314.0H560.0M537.9 311.2V316.8M560.0 311.2V316.8M540.0 315.7H565.0M540.0 312.9V318.5M565.0 312.9V318.5M543.0 314.4H568.0M543.0 311.6V317.2M568.0 311.6V317.2M552.0 314.0H578.0M552.0 311.2V316.8M578.0 311.2V316.8M556.0 317.0H584.0M556.0 314.2V319.8M584.0 314.2V319.8M560.0 318.3H588.0M560.0 315.5V321.1M588.0 315.5V321.1M543.7 301.9H580.0M543.7 299.1V304.7M580.0 299.1V304.7M554.0 302.0H580.0M554.0 299.2V304.8M580.0 299.2V304.8M562.0 304.0H588.0M562.0 301.2V306.8M588.0 301.2V306.8M565.0 302.7H595.0M565.0 299.9V305.5M595.0 299.9V305.5M572.0 304.8H600.0M572.0 302.0V307.6M600.0 302.0V307.6M576.0 305.2H602.0M576.0 302.4V308.0M602.0 302.4V308.0M580.0 304.6H606.0M580.0 301.8V307.4M606.0 301.8V307.4M576.5 295.2H600.0M576.5 292.4V298.0M600.0 292.4V298.0M578.0 295.2H605.0M578.0 292.4V298.0M605.0 292.4V298.0M576.5 290.7H612.0M576.5 287.9V293.5M612.0 287.9V293.5M585.0 290.7H612.0M585.0 287.9V293.5M612.0 287.9V293.5M590.0 299.3H624.2M590.0 296.5V302.1M624.2 296.5V302.1M605.0 278.2H640.0M605.0 275.4V281.0M640.0 275.4V281.0M610.0 278.4H640.0M610.0 275.6V281.2M640.0 275.6V281.2M615.0 278.7H645.0M615.0 275.9V281.5M645.0 275.9V281.5M620.0 279.0H649.8M620.0 276.2V281.8M649.8 276.2V281.8M625.2 321.9H651.3M625.2 319.1V324.7M651.3 319.1V324.7" fill="none" stroke="rgba(245,0,0,0.58)" stroke-width="1.4"/>
<circle cx="549.5" cy="406.3" r="2.45" fill="rgba(10,0,245,0.78)" stroke="#000050" stroke-opacity="0.75" stroke-width="0.8"/>
<circle cx="616.0" cy="318.4" r="2.45" fill="rgba(10,0,245,0.78)" stroke="#000050" stroke-opacity="0.75" stroke-width="0.8"/>
<circle cx="647.9" cy="296.8" r="2.45" fill="rgba(10,0,245,0.78)" stroke="#000050" stroke-opacity="0.75" stroke-width="0.8"/>
<circle cx="646.0" cy="307.4" r="2.45" fill="rgba(10,0,245,0.78)" stroke="#000050" stroke-opacity="0.75" stroke-width="0.8"/>
<circle cx="639.2" cy="270.0" r="2.45" fill="rgba(10,0,245,0.78)" stroke="#000050" stroke-opacity="0.75" stroke-width="0.8"/>
<circle cx="652.3" cy="269.0" r="2.45" fill="rgba(10,0,245,0.78)" stroke="#000050" stroke-opacity="0.75" stroke-width="0.8"/>
<circle cx="650.3" cy="274.4" r="2.45" fill="rgba(10,0,245,0.78)" stroke="#000050" stroke-opacity="0.75" stroke-width="0.8"/>
<circle cx="643.0" cy="281.8" r="2.45" fill="rgba(10,0,245,0.78)" stroke="#000050" stroke-opacity="0.75" stroke-width="0.8"/>
<circle cx="615.5" cy="282.7" r="2.45" fill="rgba(10,0,245,0.78)" stroke="#000050" stroke-opacity="0.75" stroke-width="0.8"/>
<circle cx="615.5" cy="288.4" r="2.45" fill="rgba(10,0,245,0.78)" stroke="#000050" stroke-opacity="0.75" stroke-width="0.8"/>
<circle cx="608.3" cy="290.8" r="2.45" fill="rgba(10,0,245,0.78)" stroke="#000050" stroke-opacity="0.75" stroke-width="0.8"/>
<circle cx="604.5" cy="303.5" r="2.45" fill="rgba(10,0,245,0.78)" stroke="#000050" stroke-opacity="0.75" stroke-width="0.8"/>
<circle cx="595.3" cy="300.5" r="2.45" fill="rgba(10,0,245,0.78)" stroke="#000050" stroke-opacity="0.75" stroke-width="0.8"/>
<circle cx="597.4" cy="299.8" r="2.45" fill="rgba(10,0,245,0.78)" stroke="#000050" stroke-opacity="0.75" stroke-width="0.8"/>
<circle cx="588.2" cy="294.5" r="2.45" fill="rgba(10,0,245,0.78)" stroke="#000050" stroke-opacity="0.75" stroke-width="0.8"/>
<circle cx="586.1" cy="298.1" r="2.45" fill="rgba(10,0,245,0.78)" stroke="#000050" stroke-opacity="0.75" stroke-width="0.8"/>
<circle cx="581.0" cy="298.9" r="2.45" fill="rgba(10,0,245,0.78)" stroke="#000050" stroke-opacity="0.75" stroke-width="0.8"/>
<circle cx="578.5" cy="298.5" r="2.45" fill="rgba(10,0,245,0.78)" stroke="#000050" stroke-opacity="0.75" stroke-width="0.8"/>
<circle cx="574.8" cy="296.4" r="2.45" fill="rgba(10,0,245,0.78)" stroke="#000050" stroke-opacity="0.75" stroke-width="0.8"/>
<circle cx="570.6" cy="302.7" r="2.45" fill="rgba(10,0,245,0.78)" stroke="#000050" stroke-opacity="0.75" stroke-width="0.8"/>
<circle cx="560.9" cy="309.0" r="2.45" fill="rgba(10,0,245,0.78)" stroke="#000050" stroke-opacity="0.75" stroke-width="0.8"/>
<circle cx="574.3" cy="309.7" r="2.45" fill="rgba(10,0,245,0.78)" stroke="#000050" stroke-opacity="0.75" stroke-width="0.8"/>
<circle cx="577.7" cy="312.8" r="2.45" fill="rgba(10,0,245,0.78)" stroke="#000050" stroke-opacity="0.75" stroke-width="0.8"/>
<circle cx="576.9" cy="318.8" r="2.45" fill="rgba(10,0,245,0.78)" stroke="#000050" stroke-opacity="0.75" stroke-width="0.8"/>
<circle cx="528.0" cy="312.1" r="2.45" fill="rgba(250,0,0,0.78)" stroke="#500000" stroke-opacity="0.75" stroke-width="0.8"/>
<circle cx="533.1" cy="319.2" r="2.45" fill="rgba(250,0,0,0.78)" stroke="#500000" stroke-opacity="0.75" stroke-width="0.8"/>
<circle cx="542.2" cy="327.6" r="2.45" fill="rgba(250,0,0,0.78)" stroke="#500000" stroke-opacity="0.75" stroke-width="0.8"/>
<circle cx="559.1" cy="331.9" r="2.45" fill="rgba(250,0,0,0.78)" stroke="#500000" stroke-opacity="0.75" stroke-width="0.8"/>
<circle cx="550.3" cy="340.2" r="2.45" fill="rgba(250,0,0,0.78)" stroke="#500000" stroke-opacity="0.75" stroke-width="0.8"/>
<circle cx="536.3" cy="346.3" r="2.45" fill="rgba(250,0,0,0.78)" stroke="#500000" stroke-opacity="0.75" stroke-width="0.8"/>
<circle cx="558.8" cy="348.7" r="2.45" fill="rgba(250,0,0,0.78)" stroke="#500000" stroke-opacity="0.75" stroke-width="0.8"/>
<circle cx="547.6" cy="314.0" r="2.45" fill="rgba(250,0,0,0.78)" stroke="#500000" stroke-opacity="0.75" stroke-width="0.8"/>
<circle cx="552.0" cy="315.7" r="2.45" fill="rgba(250,0,0,0.78)" stroke="#500000" stroke-opacity="0.75" stroke-width="0.8"/>
<circle cx="555.3" cy="314.4" r="2.45" fill="rgba(250,0,0,0.78)" stroke="#500000" stroke-opacity="0.75" stroke-width="0.8"/>
<circle cx="564.7" cy="314.0" r="2.45" fill="rgba(250,0,0,0.78)" stroke="#500000" stroke-opacity="0.75" stroke-width="0.8"/>
<circle cx="568.5" cy="317.0" r="2.45" fill="rgba(250,0,0,0.78)" stroke="#500000" stroke-opacity="0.75" stroke-width="0.8"/>
<circle cx="572.2" cy="318.3" r="2.45" fill="rgba(250,0,0,0.78)" stroke="#500000" stroke-opacity="0.75" stroke-width="0.8"/>
<circle cx="564.7" cy="301.9" r="2.45" fill="rgba(250,0,0,0.78)" stroke="#500000" stroke-opacity="0.75" stroke-width="0.8"/>
<circle cx="566.5" cy="302.0" r="2.45" fill="rgba(250,0,0,0.78)" stroke="#500000" stroke-opacity="0.75" stroke-width="0.8"/>
<circle cx="574.3" cy="304.0" r="2.45" fill="rgba(250,0,0,0.78)" stroke="#500000" stroke-opacity="0.75" stroke-width="0.8"/>
<circle cx="579.8" cy="302.7" r="2.45" fill="rgba(250,0,0,0.78)" stroke="#500000" stroke-opacity="0.75" stroke-width="0.8"/>
<circle cx="586.5" cy="304.8" r="2.45" fill="rgba(250,0,0,0.78)" stroke="#500000" stroke-opacity="0.75" stroke-width="0.8"/>
<circle cx="589.0" cy="305.2" r="2.45" fill="rgba(250,0,0,0.78)" stroke="#500000" stroke-opacity="0.75" stroke-width="0.8"/>
<circle cx="592.4" cy="304.6" r="2.45" fill="rgba(250,0,0,0.78)" stroke="#500000" stroke-opacity="0.75" stroke-width="0.8"/>
<circle cx="582.3" cy="295.2" r="2.45" fill="rgba(250,0,0,0.78)" stroke="#500000" stroke-opacity="0.75" stroke-width="0.8"/>
<circle cx="591.5" cy="295.2" r="2.45" fill="rgba(250,0,0,0.78)" stroke="#500000" stroke-opacity="0.75" stroke-width="0.8"/>
<circle cx="594.9" cy="290.7" r="2.45" fill="rgba(250,0,0,0.78)" stroke="#500000" stroke-opacity="0.75" stroke-width="0.8"/>
<circle cx="599.1" cy="290.7" r="2.45" fill="rgba(250,0,0,0.78)" stroke="#500000" stroke-opacity="0.75" stroke-width="0.8"/>
<circle cx="602.4" cy="299.3" r="2.45" fill="rgba(250,0,0,0.78)" stroke="#500000" stroke-opacity="0.75" stroke-width="0.8"/>
<circle cx="620.3" cy="278.2" r="2.45" fill="rgba(250,0,0,0.78)" stroke="#500000" stroke-opacity="0.75" stroke-width="0.8"/>
<circle cx="623.7" cy="278.4" r="2.45" fill="rgba(250,0,0,0.78)" stroke="#500000" stroke-opacity="0.75" stroke-width="0.8"/>
<circle cx="628.6" cy="278.7" r="2.45" fill="rgba(250,0,0,0.78)" stroke="#500000" stroke-opacity="0.75" stroke-width="0.8"/>
<circle cx="633.4" cy="279.0" r="2.45" fill="rgba(250,0,0,0.78)" stroke="#500000" stroke-opacity="0.75" stroke-width="0.8"/>
<circle cx="637.3" cy="321.9" r="2.45" fill="rgba(250,0,0,0.78)" stroke="#500000" stroke-opacity="0.75" stroke-width="0.8"/>
<line x1="502.00" y1="241.90" x2="505.60" y2="241.90" stroke="#2b2b2b" stroke-width="1.0" />
<text x="498.60" y="245.35" font-size="10.2" text-anchor="end" >10</text>
<line x1="502.00" y1="268.98" x2="505.60" y2="268.98" stroke="#2b2b2b" stroke-width="1.0" />
<text x="498.60" y="272.43" font-size="10.2" text-anchor="end" >0</text>
<line x1="502.00" y1="296.06" x2="505.60" y2="296.06" stroke="#2b2b2b" stroke-width="1.0" />
<text x="498.60" y="299.51" font-size="10.2" text-anchor="end" >−10</text>
<line x1="502.00" y1="323.14" x2="505.60" y2="323.14" stroke="#2b2b2b" stroke-width="1.0" />
<text x="498.60" y="326.59" font-size="10.2" text-anchor="end" >−20</text>
<line x1="502.00" y1="350.22" x2="505.60" y2="350.22" stroke="#2b2b2b" stroke-width="1.0" />
<text x="498.60" y="353.67" font-size="10.2" text-anchor="end" >−30</text>
<line x1="502.00" y1="377.30" x2="505.60" y2="377.30" stroke="#2b2b2b" stroke-width="1.0" />
<text x="498.60" y="380.75" font-size="10.2" text-anchor="end" >−40</text>
<line x1="502.00" y1="404.38" x2="505.60" y2="404.38" stroke="#2b2b2b" stroke-width="1.0" />
<text x="498.60" y="407.83" font-size="10.2" text-anchor="end" >−50</text>
<line x1="547.10" y1="414.40" x2="547.10" y2="418.00" stroke="#2b2b2b" stroke-width="1.0" />
<text x="547.10" y="429.00" font-size="10.2" text-anchor="middle" >0.2</text>
<line x1="590.60" y1="414.40" x2="590.60" y2="418.00" stroke="#2b2b2b" stroke-width="1.0" />
<text x="590.60" y="429.00" font-size="10.2" text-anchor="middle" >0.4</text>
<line x1="634.10" y1="414.40" x2="634.10" y2="418.00" stroke="#2b2b2b" stroke-width="1.0" />
<text x="634.10" y="429.00" font-size="10.2" text-anchor="middle" >0.6</text>
<line x1="677.60" y1="414.40" x2="677.60" y2="418.00" stroke="#2b2b2b" stroke-width="1.0" />
<text x="677.60" y="429.00" font-size="10.2" text-anchor="middle" >0.8</text>
<text x="591.85" y="442.5" font-size="10.2" text-anchor="middle">Calibrated <tspan font-style="italic">α</tspan> (1/day)</text>
<text x="476.00" y="322.00" font-size="10.2" text-anchor="middle" transform="rotate(-90 476.00 322.00)">% change in dose over 2 cycles</text>
<rect x="505.6" y="229.7" width="172.5" height="184.7" fill="none" stroke="#2b2b2b" stroke-width="1.1"/>
<rect x="141.6" y="448.1" width="426.2" height="15.6" fill="#fdfdfd" stroke="#ececec" stroke-width="0.8"/>
<rect x="141.6" y="448.1" width="5.4" height="15.6" fill="#d8d8d8"/>
<rect x="562.3" y="448.1" width="5.5" height="15.6" fill="#d8d8d8"/>
<circle cx="156.7" cy="456.1" r="2.7" fill="#7878f4"/>
<text x="162.40" y="459.00" font-size="9.7" text-anchor="start" >pCR median</text>
<path d="M221.2 456.1H232.3M221.2 453.4V458.8M232.3 453.4V458.8" stroke="#7f7fff" stroke-width="1.2" fill="none"/>
<text x="237.20" y="459.00" font-size="9.7" text-anchor="start" >pCR IQR</text>
<circle cx="285.6" cy="456.1" r="2.7" fill="#e66a6a"/>
<text x="292.90" y="459.00" font-size="9.7" text-anchor="start" >non-pCR median</text>
<path d="M369.3 456.1H380.4M369.3 453.4V458.8M380.4 453.4V458.8" stroke="#f47a7a" stroke-width="1.2" fill="none"/>
<text x="385.90" y="459.00" font-size="9.7" text-anchor="start" >non-pCR IQR</text>
<line x1="450.70" y1="456.30" x2="472.10" y2="456.30" stroke="#555" stroke-width="1.6" />
<text x="479.00" y="459.00" font-size="9.7" text-anchor="start" >Fit</text>
<line x1="498.3" y1="456.3" x2="518.6" y2="456.3" stroke="#555" stroke-width="1.6" stroke-dasharray="4.6 2.6"/>
<text x="525.00" y="459.00" font-size="9.7" text-anchor="start" >95% PI</text>
</svg></body></html>
